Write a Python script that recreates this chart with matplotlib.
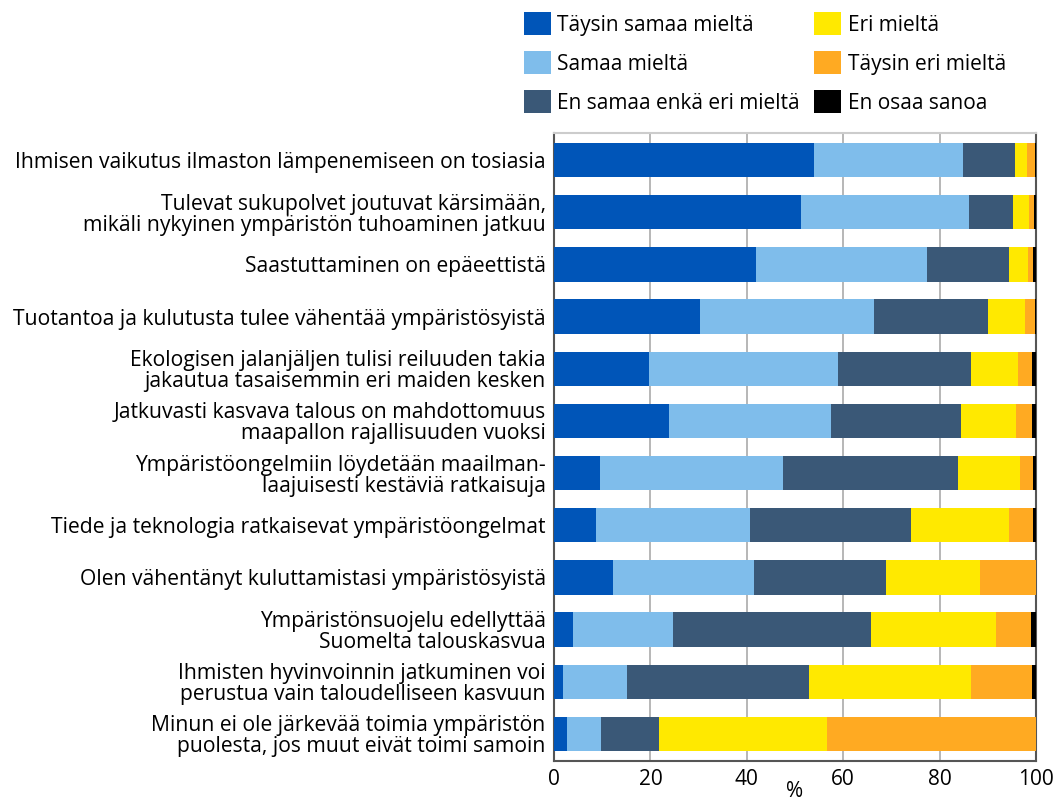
import matplotlib.pyplot as plt
import numpy as np

plt.rcParams['font.family'] = ['Open Sans', 'DejaVu Sans']

statements = [
    "Ihmisen vaikutus ilmaston lämpenemiseen on tosiasia",
    "Tulevat sukupolvet joutuvat kärsimään,\nmikäli nykyinen ympäristön tuhoaminen jatkuu",
    "Saastuttaminen on epäeettistä",
    "Tuotantoa ja kulutusta tulee vähentää ympäristösyistä",
    "Ekologisen jalanjäljen tulisi reiluuden takia\njakautua tasaisemmin eri maiden kesken",
    "Jatkuvasti kasvava talous on mahdottomuus\nmaapallon rajallisuuden vuoksi",
    "Ympäristöongelmiin löydetään maailman-\nlaajuisesti kestäviä ratkaisuja",
    "Tiede ja teknologia ratkaisevat ympäristöongelmat",
    "Olen vähentänyt kuluttamistasi ympäristösyistä",
    "Ympäristönsuojelu edellyttää\nSuomelta talouskasvua",
    "Ihmisten hyvinvoinnin jatkuminen voi\nperustua vain taloudelliseen kasvuun",
    "Minun ei ole järkevää toimia ympäristön\npuolesta, jos muut eivät toimi samoin",
]

answers = ["Täysin samaa mieltä", "Samaa mieltä", "En samaa enkä eri mieltä",
           "Eri mieltä", "Täysin eri mieltä", "En osaa sanoa"]

taysin_samaa = [54.0, 51.3, 41.9, 30.3, 19.7, 23.9, 9.6, 8.7, 12.2, 3.9, 1.9, 2.7]
samaa = [30.9, 34.7, 35.5, 36.1, 39.3, 33.6, 37.9, 32.0, 29.3, 20.8, 13.3, 7.1]
neutraali = [10.8, 9.3, 17.1, 23.7, 27.6, 27.0, 36.4, 33.4, 27.4, 41.1, 37.7, 12.0]
eri = [2.5, 3.3, 3.9, 7.7, 9.7, 11.4, 12.8, 20.4, 19.5, 25.8, 33.7, 34.9]
taysin_eri = [1.6, 1.0, 1.0, 1.9, 2.9, 3.3, 2.7, 4.9, 11.5, 7.4, 12.6, 43.2]
eos = [0.2, 0.4, 0.6, 0.3, 0.8, 0.8, 0.6, 0.6, 0.1, 1.0, 0.8, 0.1]

colors = ['#0055B8', '#7FBDEB', '#3A5877', '#FFE900', '#FFAA22', '#000000']

fig = plt.figure(figsize=(10.64, 8.05), dpi=100)
ax = fig.add_axes([554 / 1064, 1 - 761 / 805, 482 / 1064, 628 / 805])

y = np.arange(len(statements))
left = np.zeros(len(statements))
series = [taysin_samaa, samaa, neutraali, eri, taysin_eri, eos]
handles = []
for vals, col, name in zip(series, colors, answers):
    b = ax.barh(y, vals, left=left, height=0.66, color=col, label=name, zorder=3)
    handles.append(b)
    left += np.array(vals)

ax.set_ylim(11.52, -0.52)
ax.set_xlim(0, 100)
ax.set_xticks([0, 20, 40, 60, 80, 100])
ax.set_yticks(y)
ax.set_yticklabels(statements, fontsize=15.2, linespacing=1.0)
ax.tick_params(axis='both', length=0, pad=6)
ax.tick_params(axis='x', labelsize=15)
ax.xaxis.grid(True, color='#aaaaaa', linewidth=1.2, zorder=0)
ax.set_xlabel('%', fontsize=15, labelpad=-7)
for s in ax.spines.values():
    s.set_color('#555555')
    s.set_linewidth(1.5)
ax.spines['top'].set_color('#cccccc')

fig.legend(handles=handles, loc='upper left', bbox_to_anchor=(505 / 1064, 1.008),
           ncol=2, frameon=False, fontsize=15, handlelength=1.3, handleheight=1.3,
           handletextpad=0.3, columnspacing=0.7, labelspacing=0.75)

fig.savefig('out.png', dpi=100)
